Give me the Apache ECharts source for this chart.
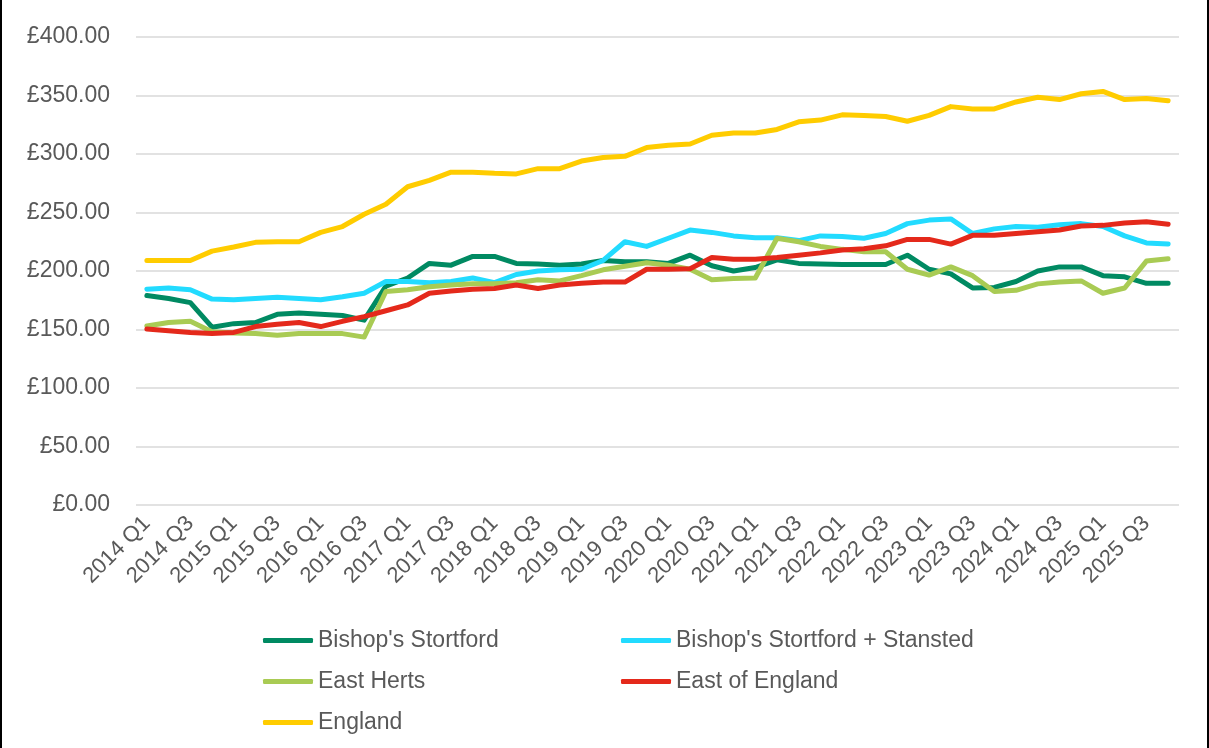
<!DOCTYPE html>
<html>
<head>
<meta charset="utf-8">
<script src="https://cdn.jsdelivr.net/npm/echarts@6/dist/echarts.min.js"></script>
<style>
  html, body { margin: 0; padding: 0; background: #fff; }
  #chart {
    width: 1205px;
    height: 748px;
    border-left: 2px solid #000;
    border-right: 2px solid #000;
  }
</style>
</head>
<body>
<div id="chart"></div>
<script>
// quarters 2014 Q1 .. 2025 Q4
const years = [2014, 2015, 2016, 2017, 2018, 2019, 2020, 2021, 2022, 2023, 2024, 2025];
const quarters = [];
years.forEach((y) => {
  ['Q1', 'Q2', 'Q3', 'Q4'].forEach((q) => quarters.push(`${y} ${q}`));
});

const seriesNames = ["Bishop's Stortford", "Bishop's Stortford + Stansted", 'East Herts', 'East of England', 'England'];

const bishopsStortford = [179, 176.5, 173, 152, 155, 156, 163, 164, 163, 162, 158, 187,
  194, 206.5, 205, 212.5, 212.5, 206.5, 206, 205, 206, 209, 208, 208,
  206.5, 213.5, 204.5, 200, 203, 209.5, 206.5, 206, 205.5, 205.5, 205.5, 213.5,
  201.5, 197.5, 185.5, 186, 191, 200, 203.5, 203.5, 196, 195, 189.5, 189.5];

const bishopsStansted = [184.5, 185.5, 184, 176, 175.5, 176.5, 177.5, 176.5, 175.5, 178, 181, 191,
  191, 190, 191, 194, 190, 197, 200, 201, 201.5, 209, 225, 221,
  228, 235, 233, 230, 228.5, 228.5, 226, 230, 229.5, 228, 232, 240.5,
  243.5, 244.5, 232, 236, 238, 237.5, 239.5, 240.5, 238, 230, 224, 223];

const eastHerts = [153, 156, 157, 148, 147, 146.5, 145, 146.5, 146.5, 146.5, 143.5, 182.5,
  184, 186.5, 188, 189, 189, 190, 192.5, 191.5, 196, 201, 204, 207,
  205, 201.5, 192.5, 193.5, 194, 228, 225, 221, 218.5, 216.5, 216.5, 201.5,
  196.5, 203.5, 196, 182.5, 183.5, 189, 190.5, 191.5, 181, 185.5, 208.5, 210.5];

const eastOfEngland = [150.5, 149, 147.5, 146.5, 147.5, 152.5, 154.5, 156, 152.5, 157, 161, 166,
  171, 181, 183, 184.5, 185, 188, 185, 188, 189.5, 190.5, 190.5, 201.5,
  201.5, 202, 211.5, 210, 210, 211.5, 213.5, 215.5, 218, 219, 221.5, 227,
  227, 223, 230.5, 230.5, 232, 233.5, 235, 238.5, 239, 241, 242, 240];

const england = [209, 209, 209, 217, 220.5, 224.5, 225, 225, 233, 238, 248.5, 257,
  272, 277.5, 284.5, 284.5, 283.5, 283, 287.5, 287.5, 294, 297, 298, 305.5,
  307.5, 308.5, 316, 318, 318, 321, 327.5, 329, 333.5, 333, 332, 328,
  333, 340.5, 338.5, 338.5, 344.5, 348.5, 346.5, 351.5, 353.5, 346.5, 347.5, 345.5];

const colors = ['#008a62', '#22dbff', '#a9cb54', '#e4291b', '#ffcc00'];
const allData = [bishopsStortford, bishopsStansted, eastHerts, eastOfEngland, england];

const font = 'Liberation Sans, Arial, sans-serif';
const textColor = '#595959';

const myChart = echarts.init(document.getElementById('chart'));

const legendBase = {
  orient: 'vertical',
  icon: 'roundRect',
  itemWidth: 50,
  itemHeight: 5,
  itemGap: 18,
  textStyle: {
    fontFamily: font,
    fontSize: 23,
    color: textColor,
    lineHeight: 23,
  },
};

const option = {
  animation: false,
  color: colors,
  grid: {
    left: 134,
    right: 28,
    top: 37,
    height: 468,
  },
  legend: [
    Object.assign({}, legendBase, {
      left: 256,
      top: 624,
      data: [seriesNames[0], seriesNames[2], seriesNames[4]],
    }),
    Object.assign({}, legendBase, {
      left: 614,
      top: 624,
      data: [seriesNames[1], seriesNames[3]],
    }),
  ],
  xAxis: {
    type: 'category',
    boundaryGap: true,
    data: quarters,
    axisLine: { show: false },
    axisTick: { show: false },
    axisLabel: {
      interval: 1,
      rotate: 45,
      margin: 15,
      fontFamily: font,
      fontSize: 22,
      color: textColor,
    },
  },
  yAxis: {
    type: 'value',
    min: 0,
    max: 400,
    interval: 50,
    axisLine: { show: false },
    axisTick: { show: false },
    splitLine: {
      lineStyle: { color: '#d9d9d9', width: 1.5 },
    },
    axisLabel: {
      margin: 26,
      fontFamily: font,
      fontSize: 23,
      color: textColor,
      formatter: (v) => `£${v.toFixed(2)}`,
    },
  },
  series: seriesNames.map((name, i) => ({
    name,
    type: 'line',
    data: allData[i],
    symbol: 'none',
    smooth: false,
    lineStyle: { width: 5, color: colors[i], cap: 'round', join: 'round' },
    itemStyle: { color: colors[i] },
  })),
};

myChart.setOption(option);
</script>
</body>
</html>
